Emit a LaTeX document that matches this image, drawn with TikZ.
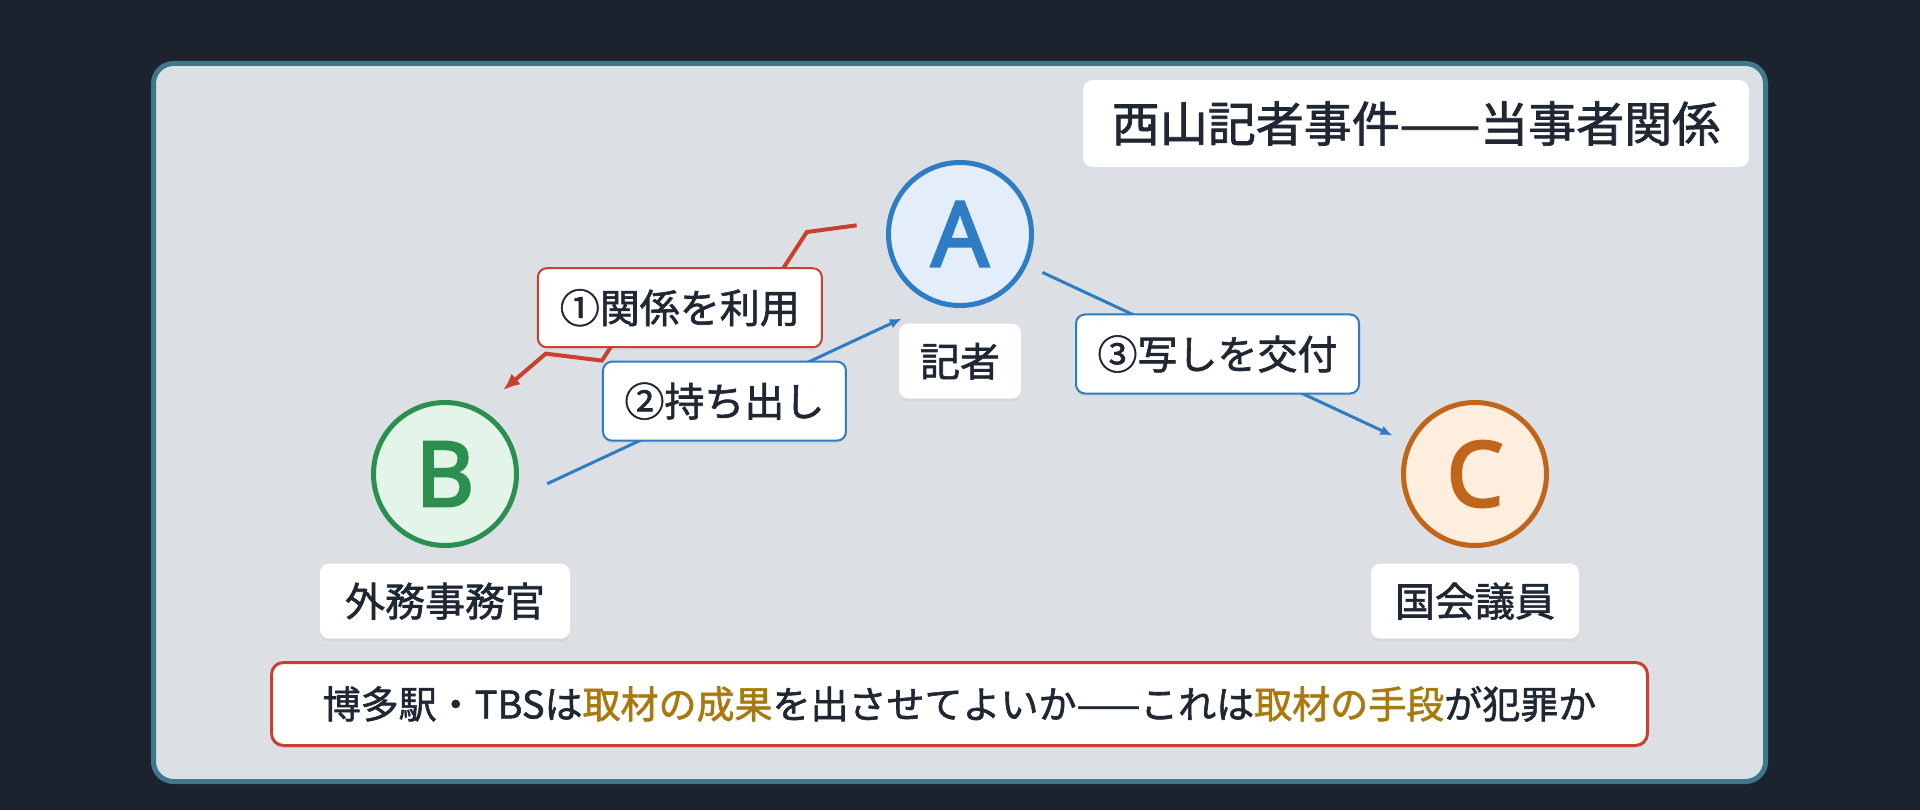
\documentclass[tikz,border=0pt]{standalone}
\usepackage{fontspec}
\setmainfont{Noto Sans CJK JP}[FakeBold=1.5]
\newfontfamily\letterfont{Noto Sans}[FakeBold=3]
\usetikzlibrary{positioning,calc,arrows.meta,shadows}

\definecolor{pagebg}{HTML}{1D232E}
\definecolor{panelbg}{HTML}{DCDFE4}
\definecolor{panelrim}{HTML}{3D7A89}
\definecolor{inkdark}{HTML}{1F2733}
\definecolor{pressblue}{HTML}{2E7CC4}
\definecolor{pressbluebg}{HTML}{E3EEFA}
\definecolor{clerkgreen}{HTML}{2B8F4F}
\definecolor{clerkgreenbg}{HTML}{E3F5E9}
\definecolor{dietorange}{HTML}{C0651A}
\definecolor{dietorangebg}{HTML}{FDEEDD}
\definecolor{alertred}{HTML}{C9412E}
\definecolor{gold}{HTML}{A8790F}

\tikzset{
  softshadow/.style={drop shadow={opacity=0.08, shadow xshift=0pt, shadow yshift=-3pt}},
  party/.style={circle, line width=5pt, minimum size=143pt, inner sep=0pt,
    font=\letterfont\fontsize{90}{90}\selectfont, softshadow},
  role/.style={fill=white, rounded corners=9pt, minimum height=75pt, inner xsep=4pt,
    inner ysep=0pt, text=inkdark, font=\fontsize{40}{48}\selectfont, softshadow},
  act/.style={fill=white, rounded corners=9pt, line width=2pt, minimum height=79pt,
    inner xsep=4pt, inner ysep=0pt, text=inkdark, font=\fontsize{40}{48}\selectfont, softshadow},
  flow/.style={draw=pressblue, line width=3pt, -{Latex[length=12pt,width=10pt]}},
  alertline/.style={draw=alertred, line width=4pt, -{Latex[length=17pt,width=14pt]}},
}

\begin{document}
\begin{tikzpicture}[x=1pt, y=-1pt]
    \fill[pagebg] (0,0) rectangle (1920,810);
    \useasboundingbox (0,0) rectangle (1920,810);
    \draw[panelrim, fill=panelbg, line width=5pt, rounded corners=20pt]
        (153.5,63.5) rectangle (1765.5,781.5);

    \node[fill=white, rounded corners=10pt, minimum width=666pt, minimum height=87pt,
        inner sep=0pt, text=inkdark, font=\fontsize{48}{56}\selectfont]
        (title) at (1416,123.5) {西山記者事件——当事者関係};

    % the three parties
    \node[party, draw=pressblue, fill=pressbluebg, text=pressblue] (A) at (960,234) {A};
    \node[party, draw=clerkgreen, fill=clerkgreenbg, text=clerkgreen] (B) at (445,474) {B};
    \node[party, draw=dietorange, fill=dietorangebg, text=dietorange] (C) at (1475,474) {C};

    \node[role, minimum width=122pt, below=15.5pt of A] (Alab) {記者};
    \node[role, minimum width=250pt, below=15.5pt of B] (Blab) {外務事務官};
    \node[role, minimum width=208pt, below=15.5pt of C] (Clab) {国会議員};

    % 1: zigzag from A to B
    \coordinate (rs) at ($(A)!51.5pt!-90:(B)$);
    \coordinate (rt) at ($(B)!51.5pt!90:(A)$);
    \coordinate (z0) at ($(rs)!90pt!(rt)$);
    \coordinate (z8) at ($(rt)!88pt!(rs)$);
    \foreach \k [evaluate=\k as \ang using {mod(\k,2)==1 ? -90 : 90}] in {1,...,7} {
        \coordinate (m\k) at ($(z0)!{\k*48pt}!(z8)$);
        \coordinate (z\k) at ($(m\k)!15pt!\ang:(z8)$);
    }
    \draw[alertline] (z0) \foreach \k in {1,...,7} { -- (z\k) } -- (z8);
    \node[act, draw=alertred, minimum width=284pt] (use) at ($(z0)!0.5!(z8)$) {①関係を利用};

    % 2: B to A
    \coordinate (bs) at ($(B)!52pt!-90:(A)$);
    \coordinate (at) at ($(A)!52pt!90:(B)$);
    \draw[flow, shorten <=88.5pt, shorten >=88.5pt] (bs) -- (at)
        node[act, draw=pressblue, minimum width=243pt, midway] (take) {②持ち出し};

    % 3: A to C
    \draw[flow, shorten <=17pt, shorten >=17pt] (A) -- (C)
        node[act, draw=pressblue, minimum width=283pt, midway] (hand) {③写しを交付};

    \node[fill=white, draw=alertred, line width=3pt, rounded corners=12pt,
        minimum width=1376pt, minimum height=83pt, inner sep=0pt, text=inkdark,
        font=\fontsize{38}{46}\selectfont, softshadow] (ask) at (959.5,704)
        {博多駅・TBSは\textcolor{gold}{取材の成果}を出させてよいか——これは\textcolor{gold}{取材の手段}が犯罪か};
\end{tikzpicture}
\end{document}
